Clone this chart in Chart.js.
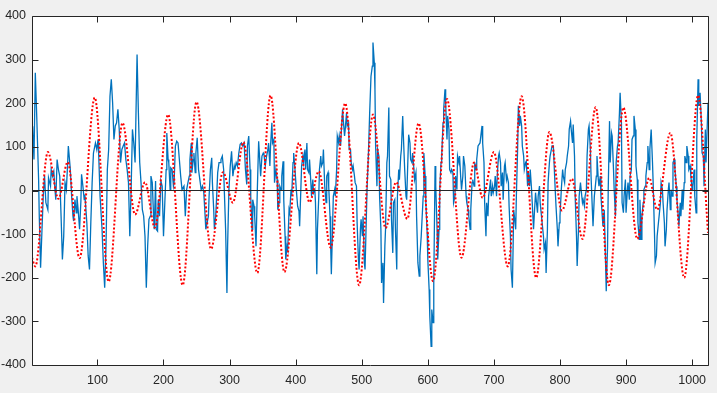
<!DOCTYPE html>
<html lang="en">
<head>
    <meta charset="UTF-8">
    <title>Signal and smooth fit</title>
    <script src="https://cdn.jsdelivr.net/npm/chart.js@4"></script>
    <style>
        body {
            margin: 0;
            padding: 0;
            background-color: #f0f0f0;
        }
        #wrap {
            width: 717px;
            height: 393px;
        }
    </style>
</head>
<body>

<div id="wrap"><canvas id="plot" width="717" height="393"></canvas></div>

<script>
    // axis ticks
    const xTicks = [100, 200, 300, 400, 500, 600, 700, 800, 900, 1000];
    const yTicks = [-400, -300, -200, -100, 0, 100, 200, 300, 400];

    // measured signal (blue), sample index / value
    const blueX = [
        1, 2, 4, 6, 8, 11, 12, 14, 18, 20,
        22, 25, 26, 29, 30, 32, 34, 35, 37, 39,
        41, 43, 45, 47, 49, 51, 53, 55, 56, 59,
        61, 63, 64, 66, 68, 69, 71, 73, 75, 76,
        78, 80, 81, 84, 86, 88, 90, 92, 94, 97,
        99, 101, 102, 104, 107, 109, 111, 113, 115, 117,
        119, 121, 123, 125, 127, 129, 131, 133, 135, 137,
        139, 141, 143, 145, 147, 149, 151, 153, 155, 157,
        160, 162, 164, 166, 168, 170, 172,
        174, 176, 178, 180, 181, 183, 185, 186, 188, 189,
        191, 192, 194, 196, 198, 200, 202, 204, 205, 207,
        208, 210, 211, 213, 215, 216, 218, 220, 222, 224,
        226, 228, 231, 233, 235, 237, 239, 240, 242, 243,
        245, 246, 248, 249, 251, 253, 255, 257, 259, 261,
        263, 264, 266, 268, 269, 271, 273, 274, 276, 277,
        279, 280, 282, 284, 286, 287, 289, 291, 292, 294,
        296, 297, 299, 301, 303, 305, 307, 308, 310, 312,
        314, 316, 318, 320, 322, 324, 326, 327, 329, 331,
        332, 334, 335, 337, 338, 340, 342, 344,
        347, 349, 351, 352, 354, 356, 358, 359, 361, 362,
        364, 365, 367, 368, 370, 372, 373, 375, 376, 378,
        379, 381, 382, 384, 385, 387, 388, 390, 391, 393,
        394, 396, 397, 399, 401, 403, 405, 406, 408, 409,
        411, 412, 414, 415, 417, 418, 420, 421, 423, 424,
        426, 427, 429, 430, 432, 433, 435, 436, 438, 439,
        441, 442, 444, 446, 447, 449, 450, 452, 453, 454,
        456, 457, 459, 460, 462, 463, 465, 466, 468, 469,
        471, 472, 474, 475, 477, 478, 480, 481, 483, 484,
        486, 487, 489, 490, 492, 493, 495, 496, 498, 499,
        501, 502, 504, 505, 507, 508, 510, 512, 514, 516,
        517, 519, 520,
        521, 523, 524, 526, 527, 529, 530, 532, 533, 535,
        536, 538, 539, 541, 542, 544, 545, 547, 548, 550,
        551, 553, 554, 556, 557, 559, 560, 562, 563, 565,
        567, 568, 570, 571, 573, 574, 576, 577, 579, 580,
        582, 583, 585, 587, 588, 590, 591, 593, 594, 596,
        597, 599, 600, 602, 603, 605, 606, 608, 609, 611,
        612, 614, 615, 617, 618, 620, 621, 623, 624, 626,
        627, 629, 630, 632, 633, 635, 636, 638, 639, 641,
        642, 644, 645, 647, 648, 650, 651, 653, 654, 656,
        658, 659, 661, 662, 664, 665, 667, 668, 670, 671,
        673, 674, 676, 677, 679, 680, 682, 683, 685, 686,
        688, 689, 691, 692,
        695, 696, 698, 699, 701, 702, 704, 705, 707, 708,
        710, 711, 713, 714, 716, 717, 719, 720, 722, 723,
        725, 726, 728, 730, 731, 733, 734, 736, 737, 739,
        740, 742, 743, 745, 746, 748, 749, 751, 752, 754,
        755, 757, 758, 760, 761, 763, 764, 766, 767, 769,
        770, 772, 773, 775, 776, 778, 779, 781, 782, 784,
        785, 787, 788, 790, 791, 793, 794, 796, 797, 799,
        800, 802, 804, 805, 807, 808, 810, 811, 813, 814,
        816, 817, 819, 820, 822, 823, 825, 826, 828, 829,
        831, 832, 834, 835, 837, 838, 840, 841, 843, 844,
        846, 847, 849, 850, 852, 853, 855, 856, 858, 859,
        861, 862, 864, 865, 867, 869, 870, 872, 873, 875,
        876, 878, 879, 881, 882, 884, 885, 887, 888, 890,
        891, 893, 894, 896, 897, 899, 900, 902, 903, 905,
        906, 908, 909, 911, 912, 914, 915, 917, 918, 920,
        921, 923, 924, 926, 927, 929, 930, 932, 933, 935,
        936, 938, 940, 941, 943, 944, 946, 947, 949, 950,
        952, 953, 955, 956, 958, 959, 961, 962, 964, 965,
        967, 968, 970, 971, 973, 974, 976, 977, 979, 980,
        982, 983, 985, 986, 988, 989, 991, 992, 994, 995,
        997, 998, 1000, 1001, 1003, 1004, 1006, 1007, 1009, 1010,
        1012, 1014, 1015, 1017, 1018, 1020, 1021, 1023, 1024
    ];
    const blueY = [
        125, 147, 71, 270, 178, 25, -59, -177, -13, 33,
        -28, -44, 29, 10, 48, 33, 44, 18, -21, 71,
        48, 33, -59, -158, -105, 18, 2, 64, 102, 48,
        -13, -59, -70, -21, -51, -13, -47, -89, -24, 37,
        10, -21, -9, -74, -150, -181, -74, 18, 86, 109,
        94, 117, 79, -13, -89, -166, -223, -128, 48, 94,
        216, 255, 201, 117, 148, 155, 186, 140, 64, 94,
        102, 109, 71, 48, 18, -105, 2, 140, 109, 64,
        312, 178, 64, 18, -44, -59, -105,
        -223, -128, -66, -59, 33, 18, -59, -89, 22, -89,
        -93, -21, -59, 22, 10, -105, -28, 48, 132, 71,
        64, 2, 52, 48, 10, 18, 102, 113, 109, 71,
        33, 2, 10, -59, 2, 18, 33, 71, 109, 41,
        71, 86, 41, 86, 121, 48, 25, 2, 10, -5,
        -59, -89, -74, -59, -13, 48, 75, 18, -44, -89,
        -59, -28, 41, 64, 64, 71, 79, 48, 2, -89,
        -235, -128, 2, 56, 90, 33, 56, 48, 64, 56,
        86, 106, 109, 102, 109, 48, 14, 102, 125, 48,
        -13, -89, -21, -36, -59, -128, 2, 113,
        33, 79, 86, 83, 56, 79, 94, 109, 56, 102,
        155, 109, 117, 18, 48, 25, -44, -28, 10, 2,
        33, 67, -21, -105, -158, -128, -135, -44, -51, 2,
        -13, 64, 86, 48, 2, -36, -47, -82, 10, 56,
        79, 64, 94, 48, 109, 48, 41, 71, 18, -13,
        25, -5, 2, -28, -192, -89, -13, 48, 79, 56,
        64, 94, 10, -28, 33, 41, 10, -59, -128, -192,
        -74, -13, 2, -13, 48, 125, 109, 125, 102, 132,
        186, 163, 125, 140, 178, 148, 155, 94, 94, 64,
        48, 56, 33, 18, 10, -74, -158, -181, -89, -66,
        -105, -59, -166, -181, -59, 2, 79, 178, 262, 285,
        339, 293, 232,
        102, 10, 94, 79, -13, -89, -212, -166, -258, -128,
        -89, 64, 79, 190, 33, 25, -66, -143, -28, -21,
        -89, -181, -13, 48, 25, 79, 94, 171, 125, 48,
        -13, -21, 79, 128, 109, 71, 64, 86, 48, 25,
        41, -59, -166, -196, -150, -105, -105, -13, 86, 33,
        -28, -97, -158, -227, -288, -357, -273, -303, -212, 56,
        10, -89, -158, -89, 2, 64, 79, 155, 186, 232,
        201, 117, 171, 140, 48, 41, 48, 41, -28, -13,
        33, 2, 79, 64, 79, 25, 2, 33, 79, 56,
        -13, -28, -44, -59, -89, -44, 18, 25, 10, 64,
        48, 71, 102, 102, 109, 109, 148, 109, 64, -28,
        -105, -28, -59, -13,
        25, -13, 10, -5, 10, 33, -13, 33, 79, 86,
        64, 10, 41, -21, 56, 64, 25, 33, 18, -36,
        -105, -181, -223, -44, -59, -89, -13, 102, 194, 148,
        171, 148, 102, 79, 48, 64, 67, 10, 41, 10,
        48, 2, -28, -89, -59, -5, -21, -51, -13, 10,
        -28, -59, -74, -105, -135, -120, -189, -89, 18, 64,
        79, 94, 102, 102, 64, -5, -36, -89, -128, -74,
        -59, 2, 48, 33, 18, 48, 64, 79, 102, 140,
        159, 140, 109, 151, 79, -13, -105, -173, -89, -13,
        18, 2, -28, -21, -36, -13, 2, 79, 140, 148,
        94, 33, -44, -82, -13, 2, 33, 79, 25, 10,
        33, -13, -59, -82, -44, -166, -231, -128, 2, 159,
        64, 132, 125, 48, 2, -59, 64, 102, 109, 178,
        224, 155, -28, -51, -13, 25, -51, 2, 18, -21,
        33, 48, 117, 125, 171, 140, 56, 25, -74, -112,
        -21, -112, -59, -28, 2, 10, 33, 64, 102, 48,
        94, 140, 64, 18, -97, -166, -150, -105, -74, -59,
        -28, 18, 2, -28, -74, -128, -89, -44, 2, 18,
        -44, 2, -13, 64, 71, 48, 10, -21, -59, -82,
        -28, -59, 2, -44, 18, 79, 64, 102, 79, 48,
        56, 33, 2, 10, 48, -13, -51, 117, 255, 194,
        224, 155, 86, 79, 10, 140, 64, 155, 201
    ];

    // smooth curve (red dotted), turning points
    const redX = [1, 6, 25, 41, 55, 73, 96, 117, 138, 157,
        172, 187, 207, 229, 250, 272, 290, 305, 321, 342,
        362, 383, 405, 421, 435, 453, 475, 496, 517, 536,
        552, 569, 586, 608, 629, 651, 670, 683, 700, 721,
        742, 764, 784, 803, 818, 834, 854, 874, 896, 917,
        935, 947, 967, 988, 1009, 1024];
    const redY = [-154, -174, 88, -19, 65, -155, 213, -209, 155, -55,
        19, -85, 174, -217, 203, -134, 42, -28, 111, -189,
        218, -187, 109, -27, 44, -131, 200, -217, 174, -86,
        19, -65, 154, -208, 210, -154, 64, -17, 88, -174,
        216, -200, 134, -46, 27, -111, 191, -217, 190, -111,
        29, -44, 132, -200, 218, -97];

    // zero reference line
    const zeroX = [1, 1024];
    const zeroY = [0, 0];

    function toPoints(xs, ys) {
        const n = Math.min(xs.length, ys.length);
        const pts = [];
        for (let i = 0; i < n; i++) pts.push({ x: xs[i], y: ys[i] });
        return pts;
    }

    const axisColor = '#262626';
    const tickFont = { family: '"Liberation Sans", Arial, Helvetica, sans-serif', size: 12.5 };

    // white plot area, box and inward ticks like the original figure
    const boxPlugin = {
        id: 'box',
        beforeDraw(chart) {
            const a = chart.chartArea;
            const ctx = chart.ctx;
            ctx.save();
            ctx.fillStyle = '#ffffff';
            ctx.fillRect(a.left, a.top, a.right - a.left, a.bottom - a.top);
            ctx.restore();
        },
        afterDraw(chart) {
            const a = chart.chartArea;
            const ctx = chart.ctx;
            const xs = chart.scales.x, ys = chart.scales.y;
            const len = 6;
            const L = Math.round(a.left) + 0.5, R = Math.round(a.right) + 0.5;
            const T = Math.round(a.top) + 0.5, B = Math.round(a.bottom) + 0.5;
            ctx.save();
            ctx.strokeStyle = axisColor;
            ctx.lineWidth = 1;
            ctx.beginPath();
            ctx.rect(L, T, R - L, B - T);
            xTicks.forEach(v => {
                const px = Math.round(xs.getPixelForValue(v)) + 0.5;
                ctx.moveTo(px, B); ctx.lineTo(px, B - len);
                ctx.moveTo(px, T); ctx.lineTo(px, T + len);
            });
            yTicks.forEach(v => {
                const py = Math.round(ys.getPixelForValue(v)) + 0.5;
                ctx.moveTo(L, py); ctx.lineTo(L + len, py);
                ctx.moveTo(R, py); ctx.lineTo(R - len, py);
            });
            ctx.stroke();
            ctx.restore();
        }
    };

    new Chart(document.getElementById('plot').getContext('2d'), {
        type: 'line',
        data: {
            datasets: [
                {
                    data: toPoints(blueX, blueY),
                    borderColor: '#0072BD',
                    borderWidth: 1.3,
                    pointRadius: 0,
                    tension: 0,
                    order: 3
                },
                {
                    data: toPoints(redX, redY),
                    borderColor: '#FF0000',
                    borderWidth: 2,
                    borderDash: [2, 2],
                    pointRadius: 0,
                    cubicInterpolationMode: 'monotone',
                    order: 2
                },
                {
                    data: toPoints(zeroX, zeroY),
                    borderColor: axisColor,
                    borderWidth: 1,
                    pointRadius: 0,
                    order: 1
                }
            ]
        },
        options: {
            responsive: false,
            animation: false,
            layout: { padding: { top: 16, right: 9, left: 0, bottom: 0 } },
            plugins: {
                legend: { display: false },
                tooltip: { enabled: false }
            },
            scales: {
                x: {
                    type: 'linear',
                    min: 1,
                    max: 1024,
                    afterBuildTicks: s => { s.ticks = xTicks.map(v => ({ value: v })); },
                    afterFit: s => { s.height = 28; },
                    grid: { display: false, drawTicks: false },
                    border: { display: false },
                    ticks: {
                        padding: 8, color: axisColor, font: tickFont, maxRotation: 0, autoSkip: false,
                        callback: v => String(v)
                    }
                },
                y: {
                    type: 'linear',
                    min: -400,
                    max: 400,
                    afterBuildTicks: s => { s.ticks = yTicks.map(v => ({ value: v })); },
                    afterFit: s => { s.width = 32; },
                    grid: { display: false, drawTicks: false },
                    border: { display: false },
                    ticks: { padding: 6, color: axisColor, font: tickFont, callback: v => String(v) }
                }
            }
        },
        plugins: [boxPlugin]
    });
</script>

</body>
</html>
